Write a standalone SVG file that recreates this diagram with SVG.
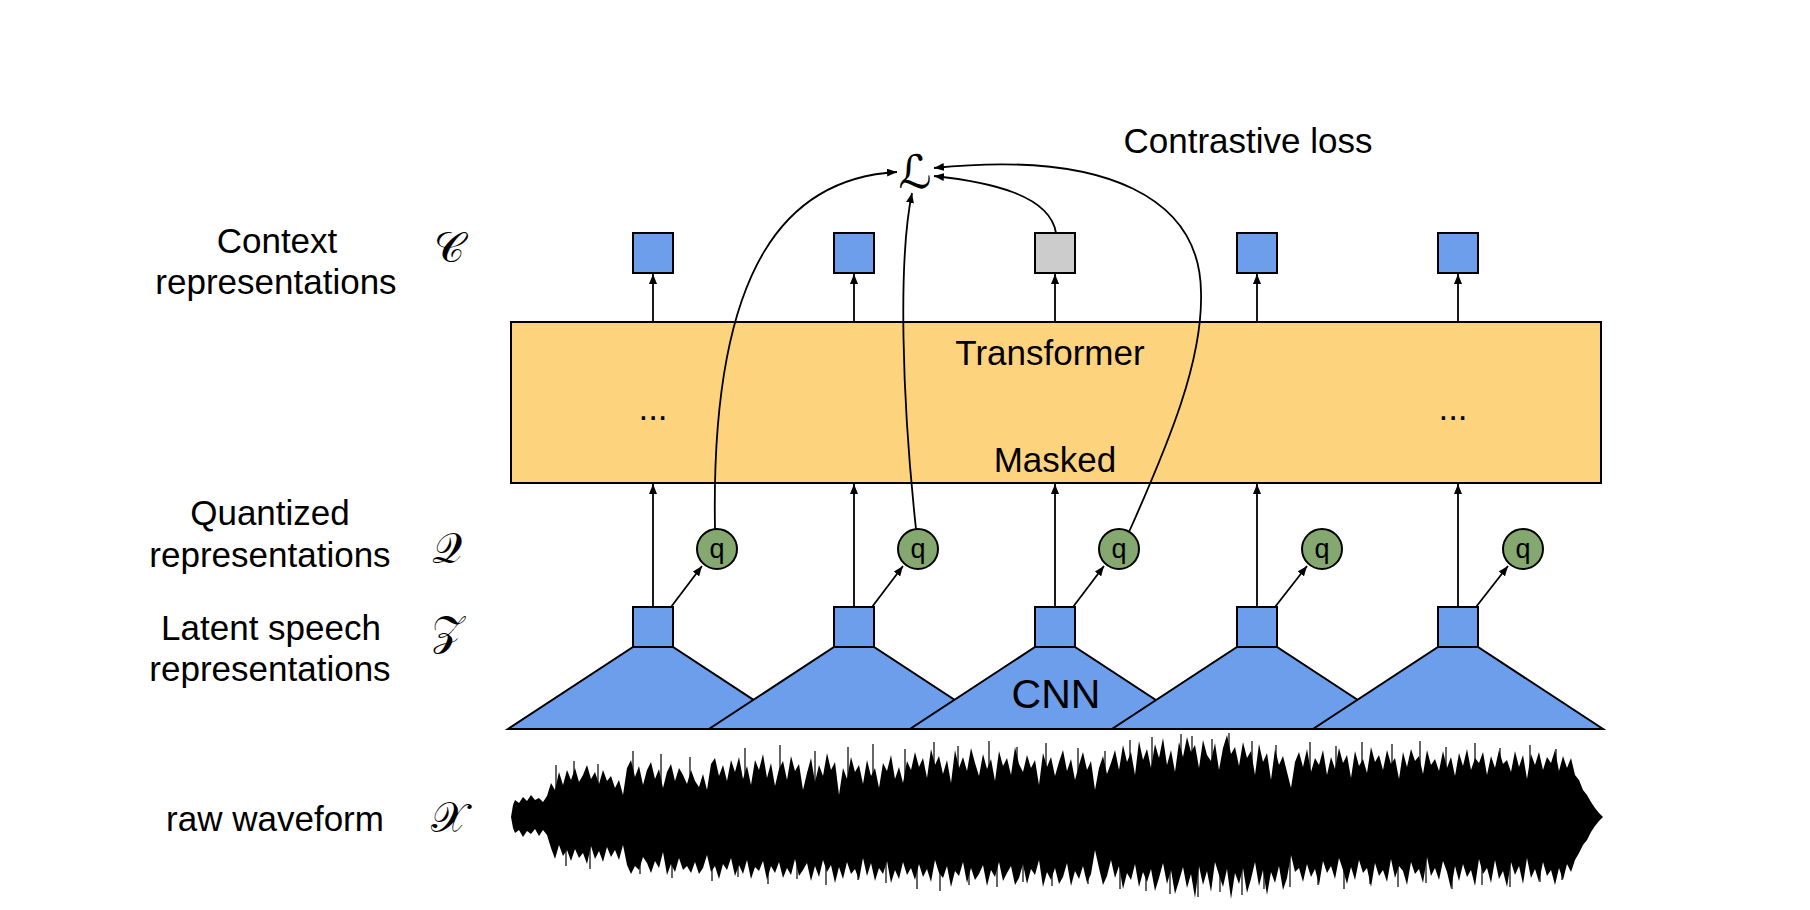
<svg xmlns="http://www.w3.org/2000/svg" width="1810" height="910" viewBox="0 0 1810 910">
<defs>
<style>
.lbl{font-family:"Liberation Sans",Arial,sans-serif;font-size:35px;fill:#000;text-anchor:middle}
.sym{font-family:"DejaVu Sans","DejaVu Serif",serif;font-style:normal;font-size:42px;fill:#000;text-anchor:middle}
.box{fill:#6d9eeb;stroke:#000;stroke-width:2}
.gbox{fill:#cccccc;stroke:#000;stroke-width:2}
.trap{fill:#6d9eeb;stroke:#000;stroke-width:2;stroke-linejoin:miter}
.qc{fill:#84a86f;stroke:#000;stroke-width:2}
.qt{font-family:"Liberation Sans",Arial,sans-serif;font-size:27px;fill:#000;text-anchor:middle}
.arr{fill:none;stroke:#000;stroke-width:1.8;marker-end:url(#ah)}
.spk{fill:none;stroke:#000;stroke-width:1.2}
</style>
<marker id="ah" viewBox="0 0 10 8" refX="10" refY="4" markerWidth="10" markerHeight="8" markerUnits="userSpaceOnUse" orient="auto">
<path d="M0,0 L10,4 L0,8 z" fill="#000"/>
</marker>
</defs>
<rect width="1810" height="910" fill="#fff"/>

<g id="labels">
<text class="lbl" x="277" y="253">Context</text>
<text class="lbl" x="276" y="294">representations</text>
<text class="sym" x="449" y="262">𝒞</text>
<text class="lbl" x="270" y="525">Quantized</text>
<text class="lbl" x="270" y="567">representations</text>
<text class="sym" x="447" y="563">𝒬</text>
<text class="lbl" x="271" y="640">Latent speech</text>
<text class="lbl" x="270" y="681">representations</text>
<text class="sym" x="448" y="645">𝒵</text>
<text class="lbl" x="275" y="831">raw waveform</text>
<text class="sym" x="449" y="832">𝒳</text>
<text class="lbl" x="1248" y="153">Contrastive loss</text>
</g>

<g id="waveform">
<path fill="#000" d="M511 817 L513 805 L515 800 L519 803 L523 797 L527 801 L531 795 L535 800 L539 798 L543 802 L547 796 L551 783 L555 790 L559 772 L563 785 L567 770 L571 780 L575 768 L579 782 L583 775 L587 765 L591 779 L595 772 L599 784 L603 770 L607 781 L611 776 L615 788 L619 780 L623 795 L627 768 L631 760 L635 777 L639 766 L643 785 L647 770 L651 762 L655 779 L659 769 L663 788 L667 772 L671 764 L675 781 L679 768 L683 775 L687 784 L691 770 L695 781 L699 787 L703 774 L707 790 L711 764 L715 758 L719 776 L723 765 L727 781 L731 760 L735 772 L739 757 L743 779 L747 766 L751 785 L755 760 L759 770 L763 754 L767 778 L771 763 L775 786 L779 769 L783 761 L787 780 L791 756 L795 771 L799 764 L803 790 L807 773 L811 758 L815 782 L819 765 L823 776 L827 753 L831 770 L835 762 L839 795 L843 768 L847 779 L851 757 L855 772 L859 765 L863 784 L867 760 L871 776 L875 768 L879 788 L883 763 L887 771 L891 755 L895 779 L899 767 L903 783 L907 761 L911 770 L915 752 L919 767 L923 758 L927 778 L931 749 L935 765 L939 756 L943 774 L947 760 L951 783 L955 750 L959 768 L963 757 L967 771 L971 748 L975 763 L979 776 L983 754 L987 769 L991 759 L995 781 L999 751 L1003 766 L1007 758 L1011 775 L1015 747 L1019 764 L1023 772 L1027 755 L1031 768 L1035 760 L1039 785 L1043 753 L1047 767 L1051 757 L1055 776 L1059 762 L1063 750 L1067 771 L1071 759 L1075 780 L1079 765 L1083 752 L1087 770 L1091 761 L1095 790 L1099 768 L1103 756 L1107 774 L1111 763 L1115 750 L1119 770 L1123 745 L1127 762 L1131 752 L1135 775 L1139 741 L1143 760 L1147 749 L1151 768 L1155 744 L1159 758 L1163 738 L1167 765 L1171 750 L1175 772 L1179 742 L1183 757 L1187 737 L1191 752 L1195 745 L1199 768 L1203 740 L1207 755 L1211 761 L1215 743 L1219 770 L1223 748 L1227 735 L1231 754 L1235 747 L1239 766 L1243 742 L1247 758 L1251 751 L1255 775 L1259 744 L1263 762 L1267 753 L1271 780 L1275 749 L1279 765 L1283 756 L1287 772 L1291 788 L1295 762 L1299 752 L1303 767 L1307 749 L1311 772 L1315 758 L1319 765 L1323 750 L1327 775 L1331 757 L1335 769 L1339 748 L1343 763 L1347 755 L1351 778 L1355 751 L1359 766 L1363 759 L1367 773 L1371 747 L1375 762 L1379 755 L1383 770 L1387 750 L1391 764 L1395 758 L1399 779 L1403 752 L1407 767 L1411 749 L1415 761 L1419 756 L1423 774 L1427 750 L1431 765 L1435 759 L1439 771 L1443 751 L1447 768 L1451 757 L1455 776 L1459 753 L1463 766 L1467 749 L1471 770 L1475 758 L1479 763 L1483 752 L1487 775 L1491 756 L1495 768 L1499 750 L1503 764 L1507 760 L1511 772 L1515 751 L1519 767 L1523 755 L1527 779 L1531 754 L1535 765 L1539 752 L1543 770 L1547 757 L1551 763 L1555 750 L1559 771 L1563 756 L1567 768 L1571 758 L1575 775 L1579 780 L1583 790 L1587 795 L1591 802 L1595 808 L1599 813 L1603 817 L1599 821 L1595 826 L1591 832 L1587 840 L1583 845 L1579 853 L1575 860 L1571 872 L1567 864 L1563 880 L1559 868 L1555 885 L1551 870 L1547 876 L1543 862 L1539 882 L1535 869 L1531 878 L1527 858 L1523 884 L1519 866 L1515 875 L1511 862 L1507 887 L1503 871 L1499 879 L1495 860 L1491 883 L1487 868 L1483 874 L1479 859 L1475 886 L1471 870 L1467 877 L1463 864 L1459 881 L1455 866 L1451 889 L1447 872 L1443 861 L1439 880 L1435 868 L1431 876 L1427 857 L1423 883 L1419 869 L1415 874 L1411 862 L1407 885 L1403 871 L1399 866 L1395 878 L1391 859 L1387 882 L1383 870 L1379 876 L1375 863 L1371 887 L1367 868 L1363 873 L1359 860 L1355 880 L1351 867 L1347 884 L1343 870 L1339 858 L1335 879 L1331 866 L1327 873 L1323 861 L1319 885 L1315 869 L1311 877 L1307 864 L1303 882 L1299 868 L1295 872 L1291 855 L1287 878 L1283 890 L1279 866 L1275 883 L1271 872 L1267 895 L1263 870 L1259 886 L1255 862 L1251 879 L1247 893 L1243 868 L1239 884 L1235 873 L1231 899 L1227 869 L1223 887 L1219 875 L1215 862 L1211 892 L1207 871 L1203 885 L1199 866 L1195 898 L1191 874 L1187 888 L1183 867 L1179 881 L1175 894 L1171 870 L1167 884 L1163 863 L1159 878 L1155 891 L1151 869 L1147 882 L1143 872 L1139 887 L1135 864 L1131 880 L1127 873 L1123 889 L1119 866 L1115 878 L1111 860 L1107 876 L1103 885 L1099 868 L1095 850 L1091 874 L1087 883 L1083 866 L1079 879 L1075 871 L1071 886 L1067 863 L1063 877 L1059 884 L1055 868 L1051 880 L1047 872 L1043 887 L1039 860 L1035 875 L1031 869 L1027 884 L1023 864 L1019 878 L1015 885 L1011 866 L1007 873 L1003 881 L999 862 L995 877 L991 870 L987 886 L983 865 L979 874 L975 880 L971 868 L967 883 L963 862 L959 876 L955 871 L951 887 L947 866 L943 878 L939 873 L935 860 L931 882 L927 869 L923 877 L919 864 L915 880 L911 868 L907 875 L903 862 L899 879 L895 870 L891 883 L887 861 L883 874 L879 868 L875 881 L871 863 L867 876 L863 858 L859 880 L855 869 L851 874 L847 862 L843 879 L839 867 L835 883 L831 865 L827 872 L823 860 L819 877 L815 866 L811 881 L807 863 L803 870 L799 876 L795 859 L791 875 L787 868 L783 878 L779 862 L775 873 L771 866 L767 880 L763 861 L759 871 L755 867 L751 879 L747 860 L743 874 L739 865 L735 876 L731 858 L727 870 L723 864 L719 879 L715 866 L711 872 L707 855 L703 868 L699 874 L695 862 L691 873 L687 866 L683 870 L679 858 L675 872 L671 864 L667 875 L663 852 L659 868 L655 861 L651 873 L647 863 L643 857 L639 870 L635 866 L631 874 L627 865 L623 845 L619 860 L615 850 L611 857 L607 847 L603 862 L599 851 L595 859 L591 846 L587 864 L583 853 L579 858 L575 849 L571 861 L567 850 L563 856 L559 845 L555 859 L551 848 L547 835 L543 830 L539 836 L535 829 L531 834 L527 831 L523 837 L519 830 L515 833 L513 828 Z"/>
<path class="spk" d="M556 817V765M574 817V761M598 817V764M633 817V751M661 817V754M690 817V757M745 817V748M780 817V745M815 817V751M848 817V747M873 817V744M905 817V749M934 817V742M958 817V746M989 817V741M1017 817V747M1046 817V743M1078 817V748M1105 817V751M1130 817V740M1152 817V737M1181 817V734M1192 817V736M1212 817V739M1229 817V733M1252 817V741M1276 817V745M1310 817V742M1336 817V746M1362 817V742M1392 817V744M1420 817V741M1446 817V747M1475 817V743M1500 817V748M1530 817V745M1556 817V749M566 817V866M590 817V869M640 817V874M672 817V878M712 817V881M738 817V877M768 817V884M797 817V879M826 817V885M858 817V880M886 817V883M917 817V889M940 817V891M969 817V885M997 817V887M1023 817V882M1052 817V886M1088 817V884M1120 817V889M1146 817V891M1170 817V894M1198 817V897M1220 817V892M1242 817V895M1264 817V889M1290 817V887M1318 817V885M1344 817V889M1370 817V884M1398 817V887M1426 817V883M1452 817V889M1482 817V885M1510 817V887M1540 817V882M1562 817V880"/>
</g>

<g id="cnn">
<polygon class="trap" points="633,647 673,647 798,729 508,729"/>
<polygon class="trap" points="834,647 874,647 999,729 709,729"/>
<polygon class="trap" points="1035,647 1075,647 1200,729 910,729"/>
<polygon class="trap" points="1237,647 1277,647 1402,729 1112,729"/>
<polygon class="trap" points="1438,647 1478,647 1603,729 1313,729"/>
<text class="lbl" x="1056" y="708" style="font-size:41px">CNN</text>
</g>

<g id="latent">
<rect class="box" x="633" y="607" width="40" height="40"/>
<rect class="box" x="834" y="607" width="40" height="40"/>
<rect class="box" x="1035" y="607" width="40" height="40"/>
<rect class="box" x="1237" y="607" width="40" height="40"/>
<rect class="box" x="1438" y="607" width="40" height="40"/>
</g>

<g id="quantized">
<circle class="qc" cx="717" cy="549" r="20"/><text class="qt" x="717" y="558">q</text>
<circle class="qc" cx="918" cy="549" r="20"/><text class="qt" x="918" y="558">q</text>
<circle class="qc" cx="1119" cy="549" r="20"/><text class="qt" x="1119" y="558">q</text>
<circle class="qc" cx="1322" cy="549" r="20"/><text class="qt" x="1322" y="558">q</text>
<circle class="qc" cx="1523" cy="549" r="20"/><text class="qt" x="1523" y="558">q</text>
</g>

<g id="transformer">
<rect x="511" y="322" width="1090" height="161" fill="#fed37e" stroke="#000" stroke-width="2"/>
<text class="lbl" x="1050" y="365">Transformer</text>
<text class="lbl" x="1055" y="472">Masked</text>
<text class="lbl" x="653" y="420">...</text>
<text class="lbl" x="1453" y="420">...</text>
</g>

<g id="context">
<rect class="box" x="633" y="233" width="40" height="40"/>
<rect class="box" x="834" y="233" width="40" height="40"/>
<rect class="gbox" x="1035" y="233" width="40" height="40"/>
<rect class="box" x="1237" y="233" width="40" height="40"/>
<rect class="box" x="1438" y="233" width="40" height="40"/>
</g>

<g id="loss">
<text class="sym" x="915" y="188" style="font-size:46px">ℒ</text>
</g>

<g id="connectors">
<line class="arr" x1="653" y1="322" x2="653" y2="274"/>
<line class="arr" x1="854" y1="322" x2="854" y2="274"/>
<line class="arr" x1="1055" y1="322" x2="1055" y2="274"/>
<line class="arr" x1="1257" y1="322" x2="1257" y2="274"/>
<line class="arr" x1="1458" y1="322" x2="1458" y2="274"/>

<line class="arr" x1="653" y1="607" x2="653" y2="484"/>
<line class="arr" x1="854" y1="607" x2="854" y2="484"/>
<line class="arr" x1="1055" y1="607" x2="1055" y2="484"/>
<line class="arr" x1="1257" y1="607" x2="1257" y2="484"/>
<line class="arr" x1="1458" y1="607" x2="1458" y2="484"/>

<line class="arr" x1="671" y1="607" x2="702" y2="566"/>
<line class="arr" x1="872" y1="607" x2="903" y2="566"/>
<line class="arr" x1="1073" y1="607" x2="1104" y2="566"/>
<line class="arr" x1="1275" y1="607" x2="1307" y2="566"/>
<line class="arr" x1="1476" y1="607" x2="1508" y2="566"/>

<path class="arr" d="M715 529 C710 260, 790 178, 897 172"/>
<path class="arr" d="M916 529 C902 400, 898 260, 912 193"/>
<path class="arr" d="M1056 233 C1050 195, 990 182, 934 176"/>
<path class="arr" d="M1129 532 C1170 440, 1203 360, 1201 292 C1200 200, 1110 150, 934 168"/>
</g>
</svg>
